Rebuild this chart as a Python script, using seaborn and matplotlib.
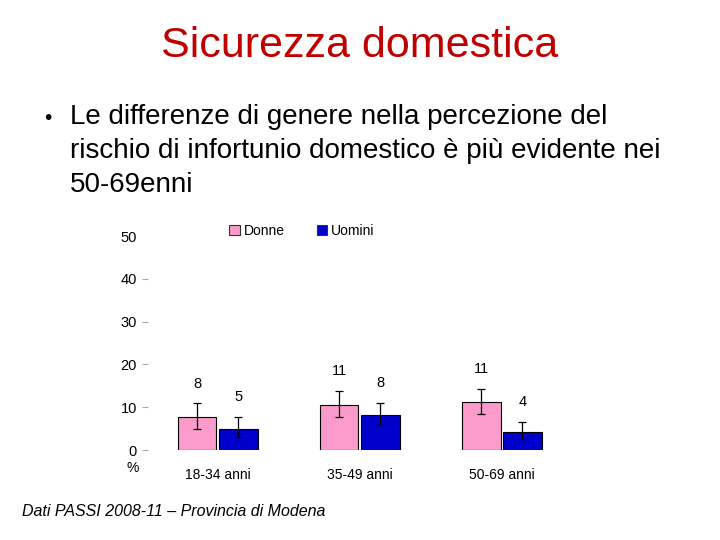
import matplotlib
matplotlib.use("Agg")
import matplotlib.pyplot as plt
import seaborn as sns
import pandas as pd
import numpy as np

# data
gruppi = ["18-34 anni", "35-49 anni", "50-69 anni"]
donne = [7.6, 10.6, 11.1]
uomini = [5.0, 8.1, 4.2]
donne_lo = [5.0, 7.8, 8.4]
donne_hi = [10.9, 13.9, 14.3]
uomini_lo = [3.1, 5.8, 2.6]
uomini_hi = [7.8, 11.0, 6.6]
serie = ["Donne", "Uomini"]
colori = ["#FA9BCB", "#0000CC"]
y_ticks = [0, 10, 20, 30, 40, 50]

titolo = "Sicurezza domestica"
testo = [
    "Le differenze di genere nella percezione del",
    "rischio di infortunio domestico è più evidente nei",
    "50-69enni",
]
fonte = "Dati PASSI 2008-11 \u2013 Provincia di Modena"

sns.set_style("white")
plt.rcParams["font.family"] = ["Liberation Sans", "DejaVu Sans"]
plt.rcParams["text.color"] = "black"
plt.rcParams["xtick.color"] = "black"
plt.rcParams["ytick.color"] = "black"

df = pd.DataFrame({
    "gruppo": gruppi * 2,
    "sesso": ["Donne"] * 3 + ["Uomini"] * 3,
    "valore": donne + uomini,
})

fig = plt.figure(figsize=(7.2, 5.4), dpi=100)
ax = fig.add_axes([148 / 720, 90 / 540, 412 / 720, 214 / 540])

sns.barplot(data=df, x="gruppo", y="valore", hue="sesso", order=gruppi,
            hue_order=serie, palette=colori, saturation=1, width=0.58, gap=0.06,
            edgecolor="black", linewidth=0.8, errorbar=None, ax=ax)

# error bars and value labels on top of the seaborn bars
bars = [p for p in ax.patches if p.get_height() > 0][:6]
vals = donne + uomini
los = donne_lo + uomini_lo
his = donne_hi + uomini_hi
for b, v, lo, hi in zip(bars, vals, los, his):
    xc = b.get_x() + b.get_width() / 2
    ax.errorbar(xc, v, yerr=[[v - lo], [hi - v]], fmt="none", ecolor="black",
                elinewidth=0.9, capsize=3, capthick=0.9)
    ax.text(xc, hi + 4.6, f"{v:.0f}", ha="center", va="center", fontsize=10.5)

ax.set_xlim(-0.49, 2.41)
ax.set_ylim(0, 50)
ax.set_yticks(y_ticks)
ax.set_xlabel("")
ax.set_ylabel("")
sns.despine(ax=ax, left=True, bottom=True)
ax.tick_params(axis="y", left=True, length=4, width=0.8, color="#aaaaaa",
               labelcolor="black", pad=4, labelsize=10.5)
ax.tick_params(axis="x", length=0, pad=13, labelsize=10, labelcolor="black")
ax.yaxis.get_major_ticks()[-1].tick1line.set_visible(False)

leg = ax.legend(loc="center", bbox_to_anchor=(302 / 720, (540 - 231) / 540),
                bbox_transform=fig.transFigure, ncol=2, frameon=False,
                handlelength=0.75, handleheight=0.75, handletextpad=0.3,
                columnspacing=2.3, fontsize=10)
for h in leg.legend_handles:
    h.set_edgecolor("#333333")
    h.set_linewidth(0.8)

fig.text(133 / 720, 1 - 468 / 540, "%", ha="center", va="center", fontsize=10)

fig.text(0.5, 1 - 46 / 540, titolo, ha="center", va="center",
         fontsize=31, color="#C00000")
fig.text(48 / 720, 1 - 118 / 540, "\u2022", ha="center", va="center", fontsize=15)
for i, riga in enumerate(testo):
    fig.text(70 / 720, 1 - (117 + 34 * i) / 540, riga, ha="left", va="center",
             fontsize=20)
fig.text(22 / 720, 1 - 512 / 540, fonte, ha="left", va="center",
         fontsize=11.5, style="italic")

fig.savefig("out.png", dpi=100)
